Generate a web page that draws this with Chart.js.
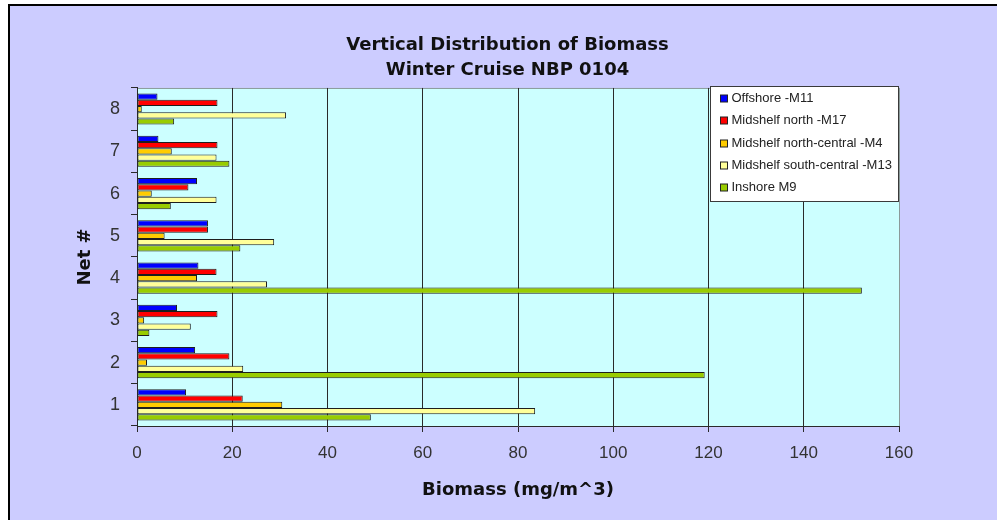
<!DOCTYPE html>
<html>
<head>
<meta charset="utf-8">
<title>Vertical Distribution of Biomass</title>
<script src="https://cdn.jsdelivr.net/npm/chart.js@4.4.1/dist/chart.umd.min.js"></script>
<style>
  html, body { margin: 0; padding: 0; background: #ffffff; overflow: hidden; width: 997px; height: 520px; }
  #frame {
    position: absolute; left: 8px; top: 4px;
    width: 1010px; height: 530px;
    border-left: 2px solid #000; border-top: 2px solid #000;
    background: #ccccff;
  }
  #chart { position: absolute; left: 0; top: 0; }
</style>
</head>
<body>
<div id="frame"><canvas id="chart" width="995" height="514"></canvas></div>
<script>
// Net numbers (depth strata) on the category axis
const nets = ['1', '2', '3', '4', '5', '6', '7', '8'];

// Biomass (mg/m^3) per net, one array per station
const offshoreM11 = [10.3, 12.2, 8.4, 12.9, 14.9, 12.6, 4.5, 4.3];
const midshelfNorthM17 = [22.2, 19.4, 16.9, 16.7, 14.9, 10.8, 16.9, 16.9];
const midshelfNorthCentralM4 = [30.5, 2.1, 1.5, 12.6, 5.8, 3.1, 7.3, 1.0];
const midshelfSouthCentralM13 = [83.6, 22.3, 11.3, 27.3, 28.8, 16.7, 16.7, 31.3];
const inshoreM9 = [49.1, 119.2, 2.6, 152.2, 21.7, 7.1, 19.4, 7.8];

const seriesNames = [
  'Offshore -M11',
  'Midshelf north -M17',
  'Midshelf north-central -M4',
  'Midshelf south-central -M13',
  'Inshore M9'
];
const seriesValues = [offshoreM11, midshelfNorthM17, midshelfNorthCentralM4, midshelfSouthCentralM13, inshoreM9];
const seriesColors = ['#0000ff', '#ff0000', '#ffcc00', '#ffff99', '#99cc00'];

// Biomass axis
const xMin = 0, xMax = 160, xStep = 20;

const TITLE_FONT = { family: 'DejaVu Sans', weight: 'bold', size: 18 };
const TICK_COLOR = '#333333';
const LINE_DARK = '#2a2a2a';
const PLOT_EDGE = '#8a9a9a';

// Light cyan plot background with a grey frame
const plotBackground = {
  id: 'plotBackground',
  beforeDraw(chart) {
    const { ctx, chartArea: a } = chart;
    ctx.save();
    ctx.fillStyle = '#ccffff';
    ctx.fillRect(a.left, a.top, a.right - a.left, a.bottom - a.top);
    ctx.strokeStyle = PLOT_EDGE;
    ctx.lineWidth = 1;
    ctx.beginPath();
    ctx.moveTo(a.left, a.top + 0.5);
    ctx.lineTo(a.right + 0.5, a.top + 0.5);
    ctx.lineTo(a.right + 0.5, a.bottom);
    ctx.stroke();
    ctx.restore();
  }
};

// Boxed legend sitting in the upper right corner of the plot
const boxedLegend = {
  id: 'boxedLegend',
  afterDraw(chart) {
    const { ctx, chartArea: a } = chart;
    const w = 188, h = 115, rowStep = 22.25, firstRow = 12;
    const x = Math.round(a.right - w - 1) + 0.5;
    const y = Math.round(a.top - 2) + 0.5;
    ctx.save();
    ctx.fillStyle = '#ffffff';
    ctx.fillRect(x, y, w, h);
    ctx.strokeStyle = '#3a3a3a';
    ctx.lineWidth = 1;
    ctx.strokeRect(x, y, w, h);
    ctx.font = '13px "Liberation Sans", Arial, sans-serif';
    ctx.textBaseline = 'middle';
    ctx.textAlign = 'left';
    chart.data.datasets.forEach((ds, i) => {
      const cy = y + firstRow + i * rowStep;
      ctx.fillStyle = ds.backgroundColor;
      ctx.fillRect(x + 10, Math.round(cy - 3.5), 7, 7);
      ctx.strokeStyle = '#222222';
      ctx.strokeRect(x + 10, Math.round(cy - 3.5), 7, 7);
      ctx.fillStyle = '#222222';
      ctx.fillText(ds.label, x + 21, cy);
    });
    ctx.restore();
  }
};

new Chart(document.getElementById('chart'), {
  type: 'bar',
  data: {
    labels: nets,
    datasets: seriesNames.map((name, i) => ({
      label: name,
      data: seriesValues[i],
      backgroundColor: seriesColors[i],
      borderColor: '#1e1e1e',
      borderWidth: 1,
      borderSkipped: false,
      barPercentage: 1,
      categoryPercentage: 0.735
    }))
  },
  options: {
    indexAxis: 'y',
    responsive: false,
    animation: false,
    events: [],
    layout: { padding: 0 },
    plugins: {
      legend: { display: false },
      tooltip: { enabled: false },
      title: {
        display: true,
        text: ['Vertical Distribution of Biomass', 'Winter Cruise NBP 0104'],
        color: '#111111',
        font: { ...TITLE_FONT, lineHeight: 1.36 },
        padding: { top: 27.5, bottom: 5.5 }
      }
    },
    scales: {
      x: {
        type: 'linear',
        min: xMin,
        max: xMax,
        ticks: {
          stepSize: xStep,
          color: TICK_COLOR,
          padding: 11,
          font: { family: 'Liberation Sans', size: 17 }
        },
        grid: {
          color: (c) => (c.tick && c.tick.value === xMax ? PLOT_EDGE : LINE_DARK),
          tickColor: LINE_DARK,
          tickLength: 6,
          lineWidth: 1
        },
        border: { color: LINE_DARK, width: 1 },
        title: {
          display: true,
          text: 'Biomass (mg/m^3)',
          color: '#111111',
          font: TITLE_FONT,
          padding: { top: 0, bottom: 19 }
        },
        afterFit(scale) { scale.height = 94; }
      },
      y: {
        type: 'category',
        reverse: true,
        ticks: {
          color: TICK_COLOR,
          padding: 11,
          font: { family: 'Liberation Sans', size: 18 }
        },
        grid: {
          offset: true,
          drawOnChartArea: false,
          color: LINE_DARK,
          tickColor: LINE_DARK,
          tickLength: 6
        },
        border: { color: LINE_DARK, width: 1 },
        title: {
          display: true,
          text: 'Net #',
          color: '#111111',
          font: TITLE_FONT,
          padding: { top: 65, bottom: 0 }
        },
        afterFit(scale) { scale.width = 127; }
      },
      // empty margin strip on the right of the plot, so the title centres on the whole frame
      yMargin: {
        type: 'category',
        position: 'right',
        ticks: { display: false },
        grid: { display: false },
        border: { display: false },
        afterFit(scale) { scale.width = 106; }
      }
    }
  },
  plugins: [plotBackground, boxedLegend]
});
</script>
</body>
</html>
